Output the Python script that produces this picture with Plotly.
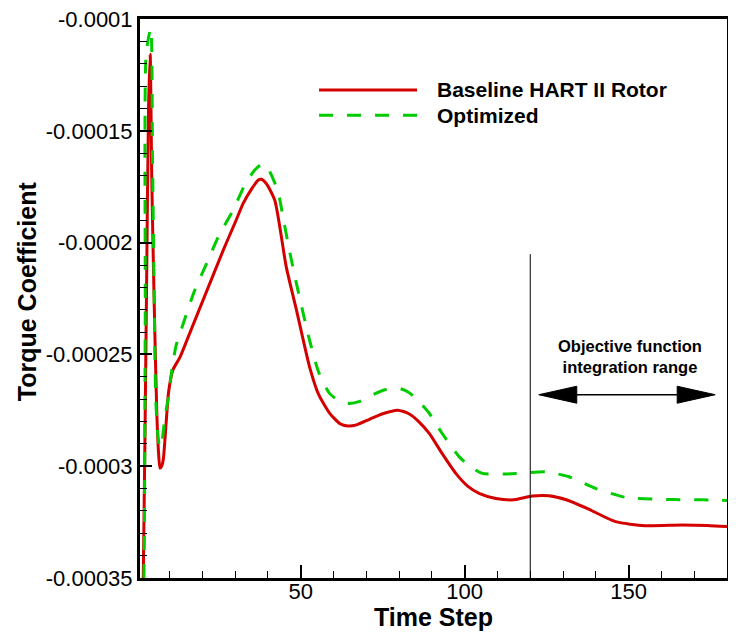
import plotly.graph_objects as go

# ---------------- data ----------------
baseline_x = [1.2, 2.0, 3.0, 3.6, 4.1, 4.6, 5.3, 6.1, 6.7, 7.1, 7.6, 8.1, 9.0, 9.7, 11.0,
              13.2, 17.0, 21.0, 26.4, 30.0, 32.5, 35.0, 37.0, 38.0, 39.5, 42.1, 45.6, 48.7,
              52.7, 55.5, 58.8, 62.0, 64.4, 67.0, 71.0, 75.0, 79.6, 83.0, 86.0, 89.2, 93.0,
              97.3, 101.0, 104.4, 109.5, 115.0, 120.6, 125.7, 131.0, 137.8, 146.0, 155.0,
              166.2, 174.0, 180.0]
baseline_y = [-0.00040, -0.00035, -0.00022, -0.00014, -0.0001157, -0.000173, -0.000225,
              -0.000275, -0.000295, -0.0003008, -0.0003, -0.000297, -0.00028, -0.000267,
              -0.000257, -0.0002512, -0.0002374, -0.0002229, -0.0002033, -0.000191,
              -0.0001823, -0.000176, -0.000172, -0.0001716, -0.0001735, -0.000181,
              -0.0002108, -0.00023, -0.0002555, -0.000268, -0.0002762, -0.000281, -0.000282,
              -0.0002815, -0.000279, -0.0002765, -0.0002749, -0.0002765, -0.00028,
              -0.0002853, -0.000294, -0.0003032, -0.000309, -0.0003121, -0.0003144,
              -0.000315, -0.0003133, -0.0003132, -0.000315, -0.0003192, -0.0003248,
              -0.0003266, -0.0003263, -0.0003265, -0.000327]

optimized_x = [1.2, 2.2, 2.6, 2.9, 4.3, 4.8, 5.3, 5.8, 6.5, 7.1, 7.8, 8.6, 9.7, 10.7, 12.0,
               14.2, 17.5, 21.3, 25.0, 29.4, 33.0, 36.0, 38.5, 40.5, 43.1, 44.6, 46.5, 48.7,
               52.7, 55.5, 58.8, 62.0, 64.9, 68.0, 72.0, 76.0, 80.1, 83.0, 86.0, 89.2, 93.0,
               98.3, 102.0, 105.4, 112.5, 118.0, 124.7, 131.8, 139.9, 149.0, 159.1, 168.0,
               177.4, 180.0]
optimized_y = [-0.00040, -0.00035, -0.00023, -0.000115, -0.000104, -0.00016, -0.00022,
               -0.00027, -0.000287, -0.0002918, -0.000288, -0.000278, -0.0002689, -0.000257,
               -0.000246, -0.0002361, -0.000222, -0.0002093, -0.000197, -0.0001854,
               -0.000174, -0.0001675, -0.0001646, -0.000168, -0.0001772, -0.0001884,
               -0.000203, -0.0002182, -0.0002436, -0.000258, -0.0002674, -0.000271,
               -0.0002719, -0.000271, -0.000268, -0.0002657, -0.0002652, -0.000267,
               -0.000271, -0.0002763, -0.000285, -0.0002957, -0.0003005, -0.0003032,
               -0.0003035, -0.000303, -0.0003025, -0.0003047, -0.0003099, -0.0003139,
               -0.0003148, -0.000315, -0.0003151, -0.0003153]

series_names = ["Baseline HART II Rotor", "Optimized"]

x_tick_vals = [50, 100, 150]
x_tick_text = ["50", "100", "150"]
y_tick_vals = [-0.0001, -0.00015, -0.0002, -0.00025, -0.0003, -0.00035]
y_tick_text = ["-0.0001", "-0.00015", "-0.0002", "-0.00025", "-0.0003", "-0.00035"]

x_range = [1, 180]
y_range = [-0.00035, -0.0000999]

# integration range annotation
range_start = 120
range_line_top = -0.0002051
arrow_x0, arrow_x1, arrow_y = 122.6, 176.4, -0.000268
note_x, note_y = 150.5, -0.0002509
note_text = "Objective function<br>integration range"

RED = "#d40000"
GREEN = "#00cc00"
FONT = "Liberation Sans, Arial, sans-serif"

fig = go.Figure()
fig.add_trace(go.Scatter(x=baseline_x, y=baseline_y, mode="lines", name=series_names[0],
                         line=dict(color=RED, width=3, shape="spline", smoothing=0.6),
                         showlegend=False))
fig.add_trace(go.Scatter(x=optimized_x, y=optimized_y, mode="lines", name=series_names[1],
                         line=dict(color=GREEN, width=3, dash="14px,14px", shape="spline",
                                   smoothing=0.6),
                         showlegend=False))

shapes = []
# vertical divider
shapes.append(dict(type="line", xref="x", yref="y", x0=range_start, x1=range_start,
                   y0=range_line_top, y1=y_range[0], line=dict(color="black", width=1)))
# double arrow shaft
shapes.append(dict(type="line", xref="x", yref="y", x0=arrow_x0 + 8, x1=arrow_x1 - 8,
                   y0=arrow_y, y1=arrow_y, line=dict(color="black", width=1.5)))
# arrow heads (pixel-sized, anchored at arrow ends)
shapes.append(dict(type="path", xref="x", yref="y", xsizemode="pixel", ysizemode="pixel",
                   xanchor=arrow_x0, yanchor=arrow_y, path="M0,0 L38,8.5 L38,-8.5 Z",
                   fillcolor="black", line=dict(color="black", width=1)))
shapes.append(dict(type="path", xref="x", yref="y", xsizemode="pixel", ysizemode="pixel",
                   xanchor=arrow_x1, yanchor=arrow_y, path="M0,0 L-38,8.5 L-38,-8.5 Z",
                   fillcolor="black", line=dict(color="black", width=1)))
# custom legend samples
shapes.append(dict(type="line", xref="paper", yref="paper", x0=0.305, x1=0.472,
                   y0=0.873, y1=0.873, line=dict(color=RED, width=3)))
shapes.append(dict(type="line", xref="paper", yref="paper", x0=0.305, x1=0.472,
                   y0=0.828, y1=0.828, line=dict(color=GREEN, width=3, dash="14px,14px")))

annotations = [
    dict(xref="paper", yref="paper", x=0.5026, y=0.873, xanchor="left", yanchor="middle",
         text="<b>" + series_names[0] + "</b>", showarrow=False,
         font=dict(family=FONT, size=21, color="black")),
    dict(xref="paper", yref="paper", x=0.5026, y=0.828, xanchor="left", yanchor="middle",
         text="<b>" + series_names[1] + "</b>", showarrow=False,
         font=dict(family=FONT, size=21, color="black")),
    dict(xref="x", yref="y", x=note_x, y=note_y, xanchor="center", yanchor="middle",
         text="<b>" + note_text + "</b>", showarrow=False, align="center",
         font=dict(family=FONT, size=16.5, color="black")),
    # axis titles
    dict(xref="paper", yref="paper", x=0.5, y=-0.07, xanchor="center", yanchor="middle",
         text="<b>Time Step</b>", showarrow=False,
         font=dict(family=FONT, size=25, color="black")),
    dict(xref="paper", yref="paper", x=-0.1925, y=0.513, xanchor="center", yanchor="middle",
         text="<b>Torque Coefficient</b>", textangle=-90, showarrow=False,
         font=dict(family=FONT, size=25, color="black")),
]

fig.update_layout(
    width=728, height=626,
    margin=dict(l=132, r=9, t=11, b=56),
    paper_bgcolor="white", plot_bgcolor="white",
    font=dict(family=FONT, size=22, color="black"),
    shapes=shapes, annotations=annotations, showlegend=False,
)
fig.update_xaxes(range=x_range, tickmode="array", tickvals=x_tick_vals, ticktext=x_tick_text,
                 ticks="inside", ticklen=13, tickwidth=2, tickcolor="black",
                 minor=dict(tickmode="linear", tick0=0, dtick=10, ticks="inside", ticklen=7,
                            tickwidth=1, tickcolor="black"),
                 showline=True, linewidth=3, linecolor="black", mirror=True,
                 showgrid=False, zeroline=False, tickfont=dict(size=22),
                 ticklabelstandoff=-8, automargin=False)
fig.update_yaxes(range=y_range, tickmode="array", tickvals=y_tick_vals, ticktext=y_tick_text,
                 ticks="inside", ticklen=12, tickwidth=2, tickcolor="black",
                 minor=dict(tickmode="linear", tick0=0, dtick=0.00001, ticks="inside",
                            ticklen=7, tickwidth=1, tickcolor="black"),
                 showline=True, linewidth=3, linecolor="black", mirror=True,
                 showgrid=False, zeroline=False, tickfont=dict(size=22),
                 ticklabeloverflow="allow", automargin=False)

fig.write_html("out.html")
